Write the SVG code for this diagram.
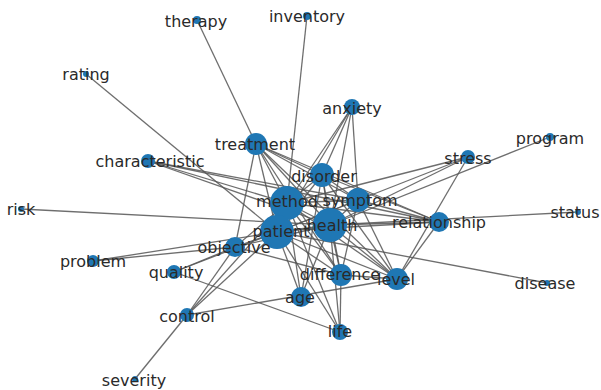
<svg xmlns="http://www.w3.org/2000/svg" width="601" height="390" viewBox="0 0 601 390">
<style>
.e line{stroke:#555;stroke-width:1.3;stroke-opacity:0.85}
.n circle{fill:#1f77b4}
.n text{font-family:"DejaVu Sans",sans-serif;font-size:16px;fill:#2a2a2a;text-anchor:middle;dominant-baseline:central}
</style>
<rect width="601" height="390" fill="#fff"/>
<g id="edges" class="e">
<line x1="287" y1="203" x2="277" y2="232"/>
<line x1="287" y1="203" x2="330" y2="225"/>
<line x1="287" y1="203" x2="322" y2="175"/>
<line x1="287" y1="203" x2="358" y2="200"/>
<line x1="277" y1="232" x2="330" y2="225"/>
<line x1="277" y1="232" x2="322" y2="175"/>
<line x1="277" y1="232" x2="358" y2="200"/>
<line x1="330" y1="225" x2="322" y2="175"/>
<line x1="330" y1="225" x2="358" y2="200"/>
<line x1="322" y1="175" x2="358" y2="200"/>
<line x1="256" y1="144" x2="197" y2="20"/>
<line x1="256" y1="144" x2="235" y2="247"/>
<line x1="256" y1="144" x2="287" y2="203"/>
<line x1="256" y1="144" x2="277" y2="232"/>
<line x1="256" y1="144" x2="330" y2="225"/>
<line x1="256" y1="144" x2="322" y2="175"/>
<line x1="256" y1="144" x2="358" y2="200"/>
<line x1="256" y1="144" x2="439" y2="222"/>
<line x1="256" y1="144" x2="341" y2="275"/>
<line x1="256" y1="144" x2="397" y2="279"/>
<line x1="307" y1="16" x2="287" y2="203"/>
<line x1="86" y1="74" x2="277" y2="232"/>
<line x1="148" y1="161" x2="287" y2="203"/>
<line x1="148" y1="161" x2="330" y2="225"/>
<line x1="148" y1="161" x2="358" y2="200"/>
<line x1="148" y1="161" x2="439" y2="222"/>
<line x1="352" y1="107" x2="322" y2="175"/>
<line x1="352" y1="107" x2="287" y2="203"/>
<line x1="352" y1="107" x2="277" y2="232"/>
<line x1="352" y1="107" x2="330" y2="225"/>
<line x1="352" y1="107" x2="358" y2="200"/>
<line x1="468" y1="157" x2="287" y2="203"/>
<line x1="468" y1="157" x2="330" y2="225"/>
<line x1="468" y1="157" x2="277" y2="232"/>
<line x1="468" y1="157" x2="397" y2="279"/>
<line x1="550" y1="137" x2="330" y2="225"/>
<line x1="21" y1="209" x2="330" y2="225"/>
<line x1="578" y1="212" x2="330" y2="225"/>
<line x1="547" y1="283" x2="277" y2="232"/>
<line x1="439" y1="222" x2="330" y2="225"/>
<line x1="439" y1="222" x2="277" y2="231"/>
<line x1="439" y1="222" x2="287" y2="203"/>
<line x1="439" y1="222" x2="358" y2="200"/>
<line x1="439" y1="222" x2="322" y2="175"/>
<line x1="439" y1="222" x2="397" y2="279"/>
<line x1="93" y1="261" x2="235" y2="247"/>
<line x1="93" y1="261" x2="277" y2="232"/>
<line x1="174" y1="272" x2="235" y2="247"/>
<line x1="174" y1="272" x2="277" y2="232"/>
<line x1="174" y1="272" x2="340" y2="332"/>
<line x1="135" y1="379" x2="187" y2="315"/>
<line x1="187" y1="315" x2="277" y2="232"/>
<line x1="187" y1="315" x2="287" y2="203"/>
<line x1="187" y1="315" x2="235" y2="247"/>
<line x1="187" y1="315" x2="397" y2="279"/>
<line x1="235" y1="247" x2="277" y2="232"/>
<line x1="235" y1="247" x2="287" y2="203"/>
<line x1="235" y1="247" x2="330" y2="225"/>
<line x1="235" y1="247" x2="341" y2="275"/>
<line x1="301" y1="297" x2="277" y2="232"/>
<line x1="301" y1="297" x2="330" y2="225"/>
<line x1="301" y1="297" x2="287" y2="203"/>
<line x1="301" y1="297" x2="322" y2="175"/>
<line x1="341" y1="275" x2="277" y2="232"/>
<line x1="341" y1="275" x2="330" y2="225"/>
<line x1="341" y1="275" x2="287" y2="203"/>
<line x1="341" y1="275" x2="322" y2="175"/>
<line x1="341" y1="275" x2="358" y2="200"/>
<line x1="341" y1="275" x2="397" y2="279"/>
<line x1="340" y1="332" x2="277" y2="232"/>
<line x1="340" y1="332" x2="287" y2="203"/>
<line x1="340" y1="332" x2="330" y2="225"/>
<line x1="340" y1="332" x2="341" y2="275"/>
<line x1="397" y1="279" x2="330" y2="225"/>
<line x1="397" y1="279" x2="277" y2="232"/>
<line x1="397" y1="279" x2="287" y2="203"/>
<line x1="397" y1="279" x2="358" y2="200"/>
<line x1="397" y1="279" x2="322" y2="175"/>
</g>
<g id="node-therapy" class="n"><circle cx="197" cy="20" r="4"/><text x="196" y="21">therapy</text></g>
<g id="node-inventory" class="n"><circle cx="307" cy="16" r="4"/><text x="307" y="16">inventory</text></g>
<g id="node-rating" class="n"><circle cx="86" cy="74" r="3"/><text x="86" y="74">rating</text></g>
<g id="node-anxiety" class="n"><circle cx="352" cy="107" r="8"/><text x="352" y="108">anxiety</text></g>
<g id="node-program" class="n"><circle cx="550" cy="137" r="4"/><text x="550" y="138">program</text></g>
<g id="node-treatment" class="n"><circle cx="256" cy="144" r="11"/><text x="255" y="144">treatment</text></g>
<g id="node-characteristic" class="n"><circle cx="148" cy="161" r="7"/><text x="150" y="161">characteristic</text></g>
<g id="node-stress" class="n"><circle cx="468" cy="157" r="7"/><text x="468" y="158">stress</text></g>
<g id="node-disorder" class="n"><circle cx="322" cy="175" r="12"/><text x="324" y="176">disorder</text></g>
<g id="node-method" class="n"><circle cx="287" cy="203" r="17"/><text x="287" y="201">method</text></g>
<g id="node-symptom" class="n"><circle cx="358" cy="200" r="12"/><text x="360" y="200">symptom</text></g>
<g id="node-risk" class="n"><circle cx="21" cy="209" r="3"/><text x="21" y="209">risk</text></g>
<g id="node-status" class="n"><circle cx="578" cy="212" r="3"/><text x="575" y="212">status</text></g>
<g id="node-patient" class="n"><circle cx="277" cy="232" r="17"/><text x="281" y="231">patient</text></g>
<g id="node-health" class="n"><circle cx="330" cy="225" r="17"/><text x="332" y="225">health</text></g>
<g id="node-relationship" class="n"><circle cx="439" cy="222" r="10"/><text x="439" y="222">relationship</text></g>
<g id="node-objective" class="n"><circle cx="235" cy="247" r="10"/><text x="234" y="247">objective</text></g>
<g id="node-problem" class="n"><circle cx="93" cy="261" r="6"/><text x="93" y="261">problem</text></g>
<g id="node-quality" class="n"><circle cx="174" cy="272" r="7"/><text x="176" y="272">quality</text></g>
<g id="node-difference" class="n"><circle cx="341" cy="275" r="11"/><text x="340" y="274">difference</text></g>
<g id="node-level" class="n"><circle cx="397" cy="279" r="11"/><text x="396" y="279">level</text></g>
<g id="node-disease" class="n"><circle cx="547" cy="283" r="3"/><text x="545" y="283">disease</text></g>
<g id="node-age" class="n"><circle cx="301" cy="297" r="10"/><text x="300" y="297">age</text></g>
<g id="node-control" class="n"><circle cx="187" cy="315" r="7"/><text x="187" y="316">control</text></g>
<g id="node-life" class="n"><circle cx="340" cy="332" r="8"/><text x="340" y="331">life</text></g>
<g id="node-severity" class="n"><circle cx="135" cy="379" r="3"/><text x="134" y="380">severity</text></g>
</svg>
